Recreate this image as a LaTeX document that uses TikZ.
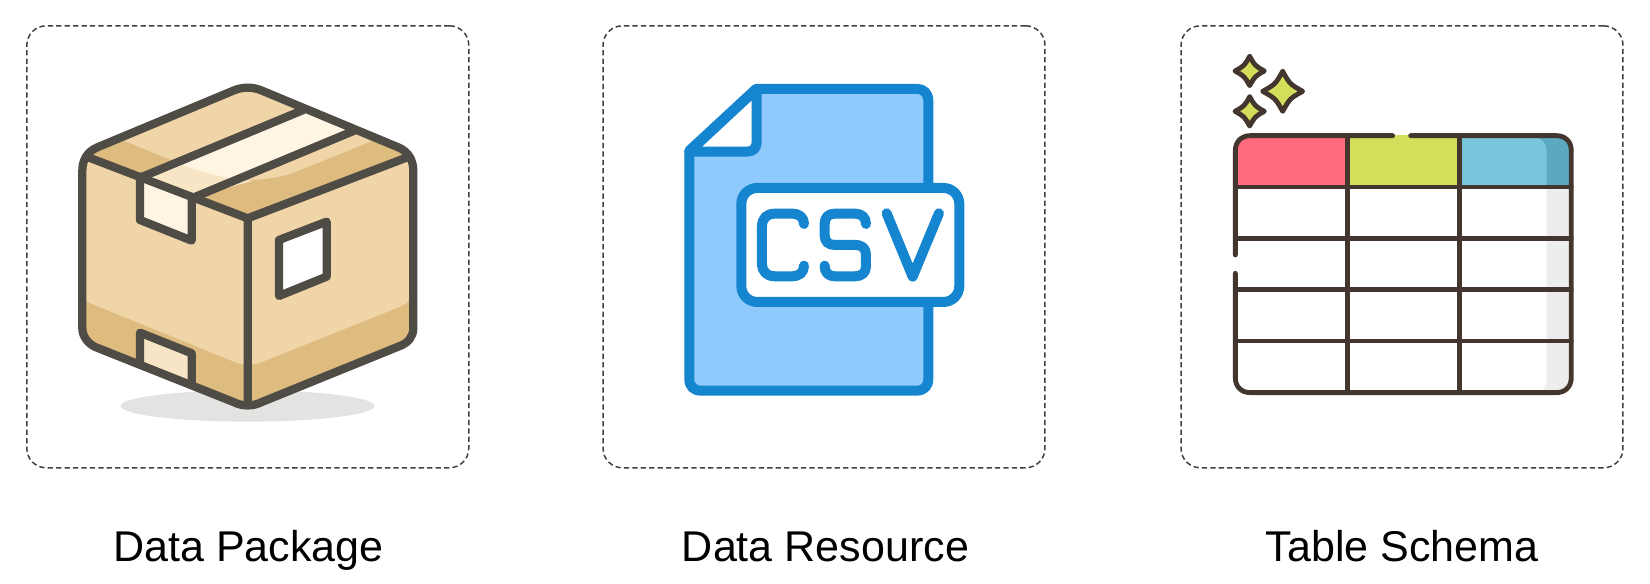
\documentclass[tikz,border=0pt]{standalone}
\usepackage{fontspec}
\setmainfont{Liberation Sans}
\usetikzlibrary{positioning}
\definecolor{boxln}{RGB}{79,75,69}
\definecolor{boxlt}{RGB}{240,213,168}
\definecolor{boxdk}{RGB}{222,187,127}
\definecolor{tapelt}{RGB}{255,245,227}
\definecolor{tapedk}{RGB}{247,229,198}
\definecolor{shadow}{RGB}{227,227,226}
\definecolor{csvln}{RGB}{21,133,207}
\definecolor{csvfl}{RGB}{144,202,253}
\definecolor{tabln}{RGB}{67,54,46}
\definecolor{tabrd}{RGB}{255,106,127}
\definecolor{tabyl}{RGB}{211,223,90}
\definecolor{tabbl}{RGB}{120,197,220}
\definecolor{tabbd}{RGB}{91,168,193}
\definecolor{tabgy}{RGB}{237,237,237}
\tikzset{panel/.style={draw=black!75,dashed,dash pattern=on 3pt off 1.8pt,line width=.85pt,rounded corners=11pt,
  minimum width=8.84cm,minimum height=8.84cm,inner sep=0pt,outer sep=0pt},
 caption/.style={anchor=base,font=\fontsize{24.5}{29}\selectfont},
 boxedge/.style={draw=boxln,line width=4.7pt,line join=round,line cap=round},
 csvedge/.style={draw=csvln,line width=5.7pt,line join=round,line cap=round},
 tabedge/.style={draw=tabln,line width=2.75pt,line join=round,line cap=round}}
\newcommand{\boxbody}{(640,212) .. controls (668,200) and (698,200) .. (726,212) -- (1135,382)
  .. controls (1165,395) and (1180,420) .. (1180,452) -- (1180,925) .. controls (1180,950) and (1165,968) .. (1140,978)
  -- (726,1146) .. controls (698,1160) and (668,1160) .. (640,1146) -- (228,982)
  .. controls (205,972) and (187,950) .. (187,925) -- (187,452) .. controls (187,420) and (202,395) .. (232,382) -- cycle}
\begin{document}
\begin{tikzpicture}[x=.02cm,y=-.02cm]
\useasboundingbox (0,0) rectangle (1650,584);
\node[panel] (pkg) at (247.8,246.8) {};
\node[panel] (res) at (824,246.8) {};
\node[panel] (sch) at (1402,246.8) {};
\node[caption] (pkglabel) at (248.5,561.5) {Data Package};
\node[caption] (reslabel) at (825.5,561.5) {Data Resource};
\node[caption] (schlabel) at (1402,561.5) {Table Schema};

\begin{scope}[shift={(20,20)},scale=.3333]
\fill[shadow] (683,1158) ellipse [x radius=381,y radius=47];
\begin{scope}
\clip \boxbody;
\fill[boxlt] (100,100) rectangle (1300,1300);
\fill[boxdk] (190,410) -- (310,362) -- (490,435) .. controls (620,490) and (740,490) .. (830,455) -- (1060,362) -- (1180,410) -- (683,595) -- cycle;
\fill[boxdk] (187,830) .. controls (200,850) and (215,850) .. (235,860) -- (640,1025) .. controls (660,1033) and (675,1035) .. (683,1035)
  .. controls (695,1035) and (710,1033) .. (730,1025) -- (1130,865) .. controls (1150,857) and (1170,845) .. (1180,830) -- (1180,1200) -- (187,1200) -- cycle;
\end{scope}
\fill[tapelt] (368,470) -- (850,270) -- (1003,332) -- (527,530) -- cycle;
\fill[tapedk] (400,470) -- (490,435) .. controls (560,465) and (640,480) .. (700,482) -- (527,530) -- cycle;
\draw[boxedge,fill=tapelt] (360,470) -- (360,600) -- (515,662) -- (515,530);
\draw[boxedge,fill=tapedk] (360,1025) -- (360,938) -- (515,1000) -- (515,1095);
\draw[boxedge,fill=white] (777,660) -- (920,605) -- (920,770) -- (777,828) -- cycle;
\draw[boxedge] (368,470) -- (850,270) (527,530) -- (1003,332);
\draw[boxedge] (205,412) -- (683,595) -- (1162,412) (683,595) -- (683,1155);
\draw[boxedge] \boxbody;
\end{scope}

\begin{scope}[shift={(600,20)},scale=.3333]
\draw[csvedge,fill=csvfl,rounded corners=0pt] (268,392) -- (468,207) -- (950,207) .. controls (972,207) and (985,220) .. (985,242)
  -- (985,1077) .. controls (985,1099) and (972,1112) .. (950,1112) -- (303,1112) .. controls (281,1112) and (268,1099) .. (268,1077) -- cycle;
\draw[csvedge,fill=white] (268,395) -- (440,395) .. controls (460,395) and (470,385) .. (470,365) -- (470,207) -- cycle;
\draw[csvedge,fill=white,rounded corners=9pt] (424,504) rectangle (1078,846);
\draw[csvedge] (612,612) .. controls (612,592) and (598,581) .. (575,581) -- (525,581) .. controls (500,581) and (486,595) .. (486,620)
  -- (486,730) .. controls (486,755) and (500,769) .. (525,769) -- (575,769) .. controls (598,769) and (612,758) .. (612,737);
\draw[csvedge] (798,612) .. controls (798,592) and (785,581) .. (765,581) -- (705,581) .. controls (685,581) and (674,592) .. (674,612)
  -- (674,645) .. controls (674,665) and (685,675) .. (705,675) -- (765,675) .. controls (787,675) and (798,685) .. (798,705)
  -- (798,740) .. controls (798,758) and (785,769) .. (765,769) -- (705,769) .. controls (685,769) and (674,758) .. (674,737);
\draw[csvedge] (860,580) -- (938,770) -- (1017,580);
\end{scope}

\begin{scope}[shift={(1170,20)},scale=.3333]
\foreach \cx/\cy/\r in {239/153/44,338/214/60,239/274/44}
  \draw[tabedge,fill=tabyl] ({\cx},{\cy-\r}) .. controls ({\cx+.36*\r},{\cy-.36*\r}) .. ({\cx+\r},{\cy})
    .. controls ({\cx+.36*\r},{\cy+.36*\r}) .. ({\cx},{\cy+\r})
    .. controls ({\cx-.36*\r},{\cy+.36*\r}) .. ({\cx-\r},{\cy})
    .. controls ({\cx-.36*\r},{\cy-.36*\r}) .. cycle;
\fill[tabrd] (196,501) -- (196,392) .. controls (196,365) and (214,347) .. (241,347) -- (532,347) -- (532,501) -- cycle;
\fill[tabyl] (532,344) rectangle (868,501);
\fill[tabbd] (868,501) -- (868,347) -- (1159,347) .. controls (1186,347) and (1204,365) .. (1204,392) -- (1204,501) -- cycle;
\fill[tabbl] (868,501) -- (868,352) -- (1090,352) .. controls (1115,352) and (1130,370) .. (1130,395) -- (1130,501) -- cycle;
\fill[tabgy] (1130,501) -- (1204,501) -- (1204,1073) .. controls (1204,1100) and (1186,1118) .. (1159,1118) -- (1110,1118) .. controls (1122,1108) and (1130,1095) .. (1130,1075) -- cycle;
\draw[tabedge] (196,705) -- (196,392) .. controls (196,365) and (214,347) .. (241,347) -- (668,347);
\draw[tabedge] (722,347) -- (1159,347) .. controls (1186,347) and (1204,365) .. (1204,392) -- (1204,1073)
  .. controls (1204,1100) and (1186,1118) .. (1159,1118) -- (241,1118) .. controls (214,1118) and (196,1100) .. (196,1073) -- (196,760);
\foreach \ry in {501,655,809,963}
  \draw[tabedge] (196,\ry) -- (1204,\ry);
\foreach \cx in {532,868}
  \draw[tabedge] (\cx,347) -- (\cx,1118);
\end{scope}
\end{tikzpicture}
\end{document}
